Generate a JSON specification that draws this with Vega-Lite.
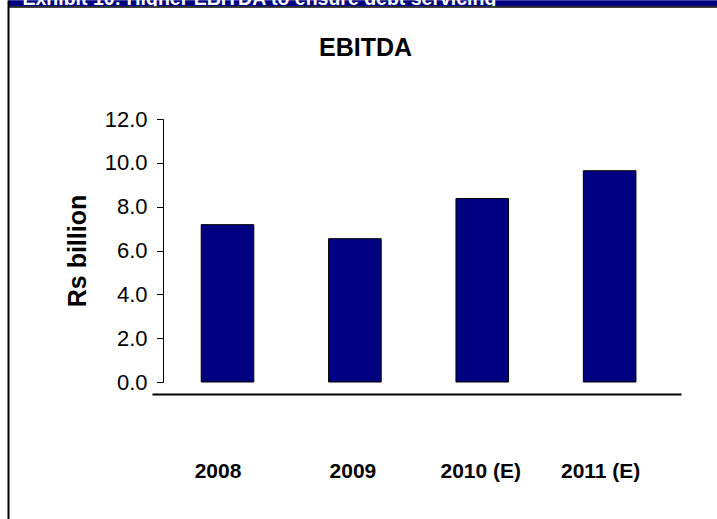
{
  "$schema": "https://vega.github.io/schema/vega-lite/v6.json",
  "width": 529,
  "height": 263,
  "autosize": {"type": "none"},
  "padding": {"left": 152, "top": 119, "right": 36, "bottom": 137},
  "background": "#ffffff",
  "config": {"view": {"stroke": null}, "font": "Liberation Sans"},
  "data": {
    "values": [
      {"year": "2008", "ebitda": 7.18},
      {"year": "2009", "ebitda": 6.54},
      {"year": "2010 (E)", "ebitda": 8.37},
      {"year": "2011 (E)", "ebitda": 9.64}
    ]
  },
  "layer": [
    {
      "mark": {"type": "bar", "fill": "#000080", "stroke": "#000000", "strokeWidth": 1},
      "encoding": {
        "x": {
          "field": "year",
          "type": "nominal",
          "sort": null,
          "scale": {"type": "band", "paddingInner": 0.587, "paddingOuter": 0.37, "align": 0.522},
          "axis": {
            "orient": "bottom",
            "title": null,
            "offset": 12,
            "domain": true,
            "domainColor": "#000000",
            "domainWidth": 2,
            "ticks": false,
            "tickSize": 0,
            "grid": false,
            "labelAngle": 0,
            "labelFont": "Liberation Sans",
            "labelFontSize": 21,
            "labelFontWeight": "bold",
            "labelColor": "#000000",
            "labelPadding": 66.5,
            "labelBaseline": "top",
            "labelOffset": {
              "condition": [
                {"test": "datum.value == '2008'", "value": -9.5},
                {"test": "datum.value == '2009'", "value": -2},
                {"test": "datum.value == '2011 (E)'", "value": -9}
              ],
              "value": -1.5
            }
          }
        },
        "y": {
          "field": "ebitda",
          "type": "quantitative",
          "scale": {"domain": [0, 12], "nice": false, "zero": true},
          "axis": {
            "orient": "left",
            "values": [0, 2, 4, 6, 8, 10, 12],
            "format": ".1f",
            "offset": -11,
            "grid": false,
            "domainColor": "#000000",
            "domainWidth": 1,
            "tickColor": "#000000",
            "tickSize": 6.5,
            "tickWidth": 1,
            "labelFont": "Liberation Sans",
            "labelFontSize": 22,
            "labelColor": "#000000",
            "labelPadding": 9.5,
            "title": "Rs billion",
            "titleFont": "Liberation Sans",
            "titleFontSize": 25,
            "titleFontWeight": "bold",
            "titleColor": "#000000",
            "titleX": -78,
            "titleY": 131.5,
            "titleAngle": -90,
            "titleBaseline": "alphabetic",
            "titleAlign": "center"
          }
        }
      }
    },
    {
      "mark": {"type": "point", "opacity": 0},
      "encoding": {
        "x": {
          "field": "year",
          "type": "nominal",
          "sort": null,
          "axis": {
            "orient": "top",
            "values": ["2008"],
            "bandPosition": 0.5,
            "offset": 113.3,
            "domain": false,
            "labels": false,
            "grid": false,
            "ticks": true,
            "tickSize": 6,
            "tickWidth": 709,
            "tickColor": "#000080",
            "tickOffset": 135,
            "tickRound": false,
            "title": "Exhibit 10: Higher EBITDA to ensure debt servicing",
            "titleColor": "#ffffff",
            "titleFont": "Liberation Sans",
            "titleFontSize": 19.5,
            "titleFontWeight": "bold",
            "titleAlign": "left",
            "titleBaseline": "alphabetic",
            "titleAngle": 0,
            "titleX": -130,
            "titleY": -0.7
          }
        }
      }
    },
    {
      "mark": {"type": "point", "opacity": 0},
      "encoding": {
        "x": {
          "field": "year",
          "type": "nominal",
          "sort": null,
          "axis": {
            "orient": "top",
            "values": ["2008"],
            "bandPosition": 0.5,
            "offset": 111.7,
            "domain": false,
            "labels": false,
            "grid": false,
            "ticks": true,
            "tickSize": 1.6,
            "tickWidth": 709,
            "tickColor": "#000000",
            "tickOffset": 135,
            "tickRound": false,
            "title": "EBITDA",
            "titleColor": "#000000",
            "titleFont": "Liberation Sans",
            "titleFontSize": 25,
            "titleFontWeight": "bold",
            "titleAlign": "center",
            "titleBaseline": "alphabetic",
            "titleAngle": 0,
            "titleX": 213,
            "titleY": 47.7
          }
        }
      }
    },
    {
      "mark": {"type": "point", "opacity": 0},
      "encoding": {
        "x": {
          "field": "year",
          "type": "nominal",
          "sort": null,
          "axis": {
            "orient": "top",
            "values": ["2008"],
            "bandPosition": 0.5,
            "offset": 119,
            "domain": false,
            "labels": false,
            "grid": false,
            "ticks": true,
            "tickSize": -519,
            "tickWidth": 2,
            "tickColor": "#000000",
            "tickOffset": -219.5,
            "tickRound": false,
            "title": null
          }
        }
      }
    }
  ],
  "resolve": {"axis": {"x": "independent"}}
}
